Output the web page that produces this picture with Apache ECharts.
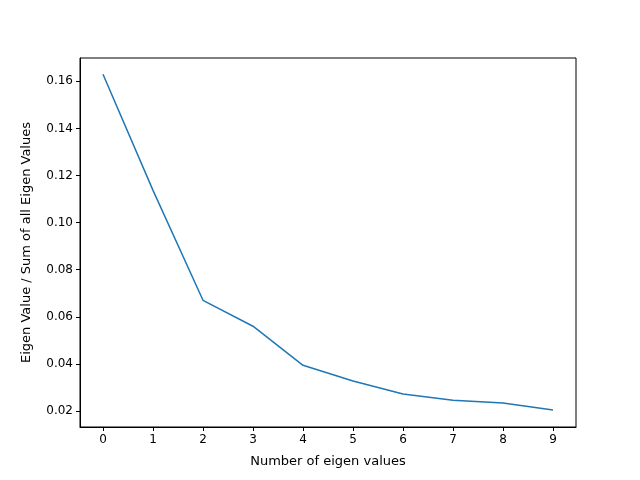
<!DOCTYPE html>
<html><head><meta charset="utf-8">
<script src="https://cdn.jsdelivr.net/npm/echarts@6/dist/echarts.min.js"></script>
<style>html,body{margin:0;padding:0;background:#fff}#c{width:640px;height:480px}</style>
</head><body><div id="c"></div>
<script>
const xValues = [0,1,2,3,4,5,6,7,8,9];
const yValues = [0.163,0.1137,0.067,0.056,0.0394,0.0327,0.0272,0.0246,0.0234,0.0204];
const xTicks = [0,1,2,3,4,5,6,7,8,9];
const yTicks = [0.02,0.04,0.06,0.08,0.10,0.12,0.14,0.16];
const chart = echarts.init(document.getElementById('c'));
const font = 'DejaVu Sans';
chart.setOption({
  animation:false,
  grid:{left:80,right:64,top:58,bottom:53,show:true,borderColor:'#000',borderWidth:1,backgroundColor:'transparent'},
  xAxis:{type:'value',min:-0.46,max:9.46,
    name:'Number of eigen values',nameLocation:'middle',nameGap:28,
    nameTextStyle:{color:'#000',fontSize:13,fontFamily:font},
    axisLine:{show:true,onZero:false,lineStyle:{color:'#000'}},
    axisTick:{show:true,customValues:xTicks,length:4,lineStyle:{color:'#000'}},
    axisLabel:{customValues:xTicks,color:'#000',fontSize:12,fontFamily:font,margin:7},
    splitLine:{show:false}},
  yAxis:{type:'value',min:0.0132,max:0.1699,
    name:'Eigen Value / Sum of all Eigen Values',nameLocation:'middle',nameGap:47,
    nameTextStyle:{color:'#000',fontSize:13,fontFamily:font},
    axisLine:{show:true,onZero:false,lineStyle:{color:'#000'}},
    axisTick:{show:true,customValues:yTicks,length:4,lineStyle:{color:'#000'}},
    axisLabel:{customValues:yTicks,color:'#000',fontSize:12,fontFamily:font,margin:7,
      formatter:v=>v.toFixed(2)},
    splitLine:{show:false}},
  series:[{type:'line',data:xValues.map((x,i)=>[x,yValues[i]]),showSymbol:false,
    lineStyle:{color:'#1f77b4',width:1.5}}]
});
</script></body></html>
